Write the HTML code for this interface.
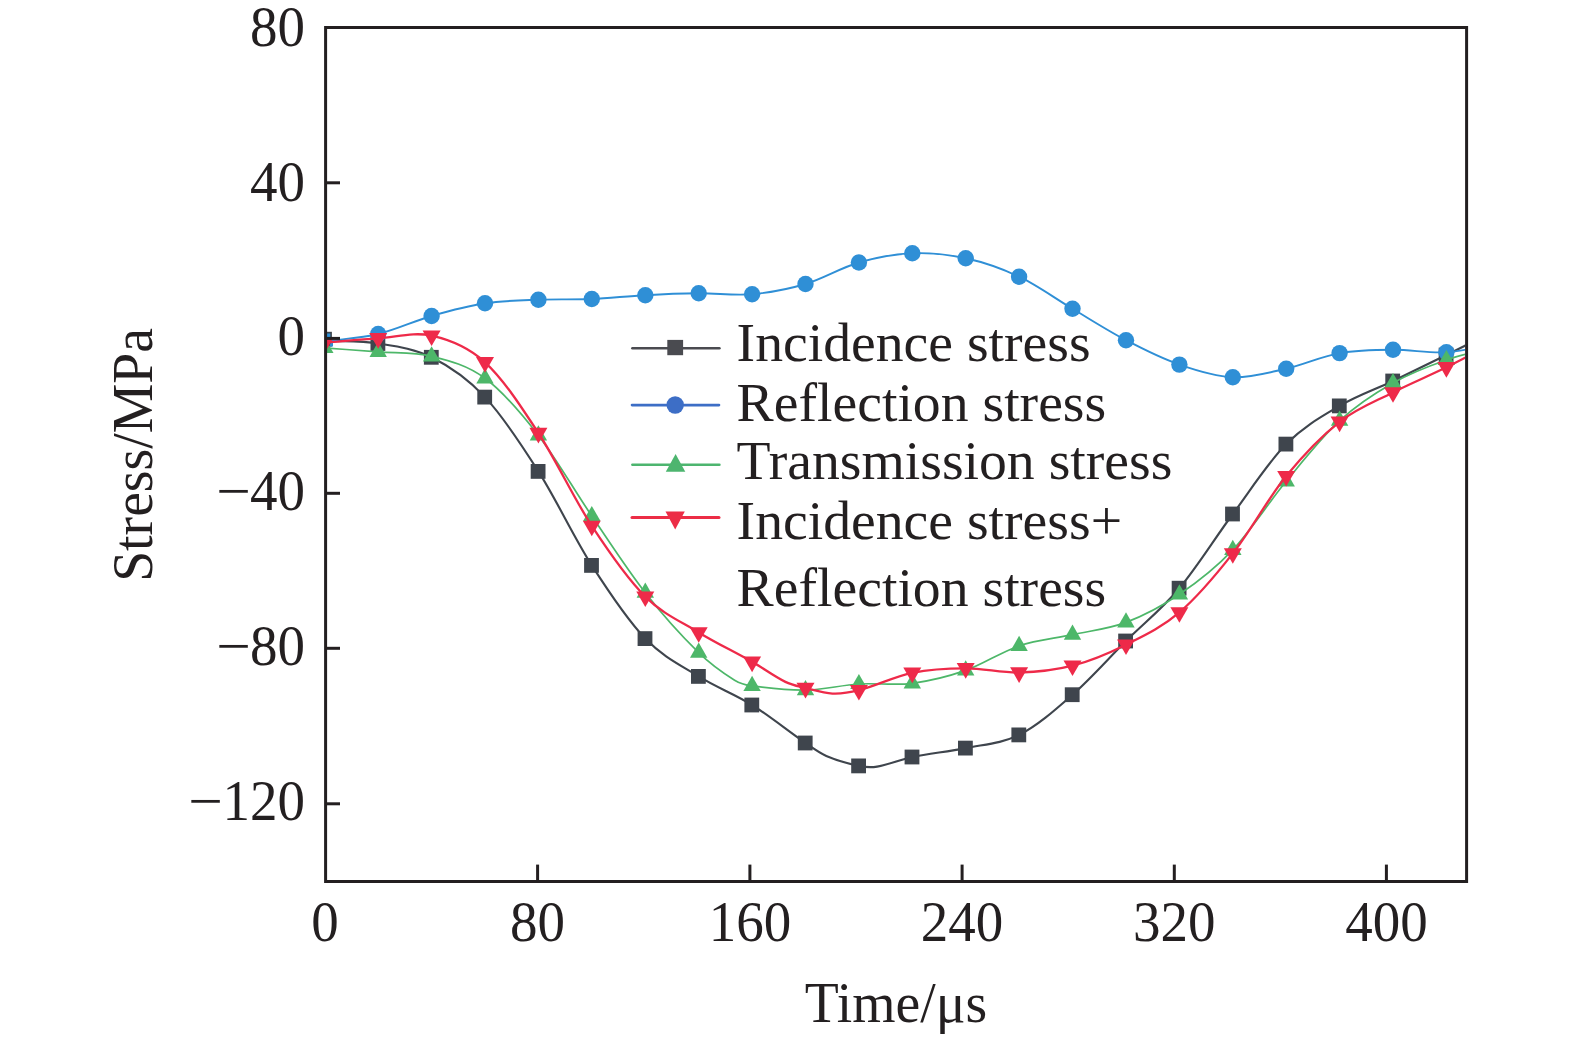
<!DOCTYPE html>
<html lang="en">
<head>
<meta charset="utf-8">
<title>Stress vs Time</title>
<style>
html,body{margin:0;padding:0;background:#fff;}
body{width:1575px;height:1040px;overflow:hidden;}
svg{display:block;}
text{font-family:"Liberation Serif","Times New Roman",serif;font-size:55.7px;fill:#231f20;}
text.n{font-size:55px;}
</style>
</head>
<body>
<svg width="1575" height="1040" viewBox="0 0 1575 1040">
<rect width="1575" height="1040" fill="#fff"/>
<defs><clipPath id="plot"><rect x="327" y="29" width="1138.2" height="851"/></clipPath></defs>

<g clip-path="url(#plot)" fill="none" stroke-linejoin="round">
<path d="M324.8 340.5C342.6 341.5 360.4 340.7 378.2 343.5C396.0 346.3 413.8 348.4 431.6 357.3C449.4 366.2 467.2 378.1 485.0 397.1C502.8 416.1 520.6 443.3 538.4 471.4C556.2 499.4 574.0 537.5 591.8 565.4C609.7 593.3 627.5 620.1 645.3 638.6C663.1 657.1 680.9 665.3 698.7 676.4C716.5 687.5 734.3 693.9 752.1 705.0C769.9 716.1 787.7 730.8 805.5 743.0C812.4 747.8 819.4 753.0 826.3 756.0C837.2 760.7 848.0 763.6 858.9 765.9C865.0 767.2 871.0 767.6 877.1 766.6C888.8 764.6 900.6 759.5 912.3 757.0C930.1 753.3 947.9 751.8 965.7 748.1C983.5 744.4 1001.3 743.8 1019.1 734.9C1036.9 726.0 1054.7 710.4 1072.5 694.7C1090.3 679.1 1108.1 658.8 1126.0 641.0C1143.8 623.2 1161.6 609.4 1179.4 588.2C1197.2 567.0 1215.0 538.0 1232.8 514.0C1250.6 490.0 1268.4 462.1 1286.2 444.1C1304.0 426.1 1321.8 416.4 1339.6 405.9C1357.4 395.4 1375.2 389.5 1393.0 381.0C1410.8 372.5 1428.6 363.8 1446.4 355.0C1464.2 346.2 1482.0 337.2 1499.8 328.3" stroke="#3f454d" stroke-width="2.1"/>
<g fill="#3f454d"><rect x="317.1" y="331.8" width="14.8" height="14.8"/><rect x="370.5" y="336.1" width="14.8" height="14.8"/><rect x="423.9" y="349.9" width="14.8" height="14.8"/><rect x="477.3" y="389.7" width="14.8" height="14.8"/><rect x="530.7" y="464.0" width="14.8" height="14.8"/><rect x="584.1" y="558.0" width="14.8" height="14.8"/><rect x="637.6" y="631.2" width="14.8" height="14.8"/><rect x="691.0" y="669.0" width="14.8" height="14.8"/><rect x="744.4" y="697.6" width="14.8" height="14.8"/><rect x="797.8" y="735.6" width="14.8" height="14.8"/><rect x="851.2" y="758.5" width="14.8" height="14.8"/><rect x="904.6" y="749.6" width="14.8" height="14.8"/><rect x="958.0" y="740.7" width="14.8" height="14.8"/><rect x="1011.4" y="727.5" width="14.8" height="14.8"/><rect x="1064.8" y="687.3" width="14.8" height="14.8"/><rect x="1118.2" y="633.6" width="14.8" height="14.8"/><rect x="1171.7" y="580.8" width="14.8" height="14.8"/><rect x="1225.1" y="506.6" width="14.8" height="14.8"/><rect x="1278.5" y="436.7" width="14.8" height="14.8"/><rect x="1331.9" y="398.5" width="14.8" height="14.8"/><rect x="1385.3" y="373.6" width="14.8" height="14.8"/><rect x="1438.7" y="347.6" width="14.8" height="14.8"/></g>
<path d="M324.8 341.5C342.6 339.0 360.4 338.2 378.2 334.0C396.0 329.8 413.8 321.1 431.6 316.0C449.4 310.9 467.2 306.0 485.0 303.3C502.8 300.6 520.6 300.4 538.4 299.7C556.2 299.0 574.0 299.8 591.8 299.0C609.7 298.2 627.5 296.1 645.3 295.2C663.1 294.2 680.9 293.5 698.7 293.3C716.5 293.1 734.3 295.8 752.1 294.2C769.9 292.6 787.7 289.3 805.5 284.0C823.3 278.7 841.1 267.6 858.9 262.5C876.7 257.4 894.5 254.0 912.3 253.3C930.1 252.6 947.9 254.4 965.7 258.3C983.5 262.2 1001.3 268.3 1019.1 276.7C1036.9 285.1 1054.7 298.2 1072.5 308.8C1090.3 319.4 1108.1 330.9 1126.0 340.2C1143.8 349.5 1161.6 358.4 1179.4 364.6C1197.2 370.8 1215.0 376.5 1232.8 377.2C1250.6 377.9 1268.4 372.7 1286.2 368.7C1304.0 364.7 1321.8 356.2 1339.6 353.1C1357.4 350.0 1375.2 349.9 1393.0 349.8C1410.8 349.6 1428.6 353.3 1446.4 352.2C1464.2 351.1 1482.0 346.2 1499.8 343.2" stroke="#2f8fd6" stroke-width="1.9"/>
<g fill="#2f8fd6"><path d="M327 333.6H330.3V337.5H327ZM330.4 343H333V346.5H329.5Z"/><circle cx="378.2" cy="334.0" r="8.2"/><circle cx="431.6" cy="316.0" r="8.2"/><circle cx="485.0" cy="303.3" r="8.2"/><circle cx="538.4" cy="299.7" r="8.2"/><circle cx="591.8" cy="299.0" r="8.2"/><circle cx="645.3" cy="295.2" r="8.2"/><circle cx="698.7" cy="293.3" r="8.2"/><circle cx="752.1" cy="294.2" r="8.2"/><circle cx="805.5" cy="284.0" r="8.2"/><circle cx="858.9" cy="262.5" r="8.2"/><circle cx="912.3" cy="253.3" r="8.2"/><circle cx="965.7" cy="258.3" r="8.2"/><circle cx="1019.1" cy="276.7" r="8.2"/><circle cx="1072.5" cy="308.8" r="8.2"/><circle cx="1126.0" cy="340.2" r="8.2"/><circle cx="1179.4" cy="364.6" r="8.2"/><circle cx="1232.8" cy="377.2" r="8.2"/><circle cx="1286.2" cy="368.7" r="8.2"/><circle cx="1339.6" cy="353.1" r="8.2"/><circle cx="1393.0" cy="349.8" r="8.2"/><circle cx="1446.4" cy="352.2" r="8.2"/></g>
<path d="M324.8 348.0C342.6 349.3 360.4 350.4 378.2 351.8C396.0 353.2 413.8 351.9 431.6 356.3C449.4 360.7 467.2 365.1 485.0 378.3C502.8 391.5 520.6 412.4 538.4 435.4C556.2 458.3 574.0 489.8 591.8 516.0C609.7 542.2 627.5 569.9 645.3 592.7C663.1 615.5 680.9 635.2 698.7 652.6C710.6 664.3 722.6 672.7 734.6 680.2C740.4 683.8 746.3 685.1 752.1 685.9C769.9 688.4 787.7 690.5 805.5 690.2C823.3 689.9 841.1 685.1 858.9 684.0C876.7 682.9 894.5 685.6 912.3 683.3C930.1 681.0 947.9 676.6 965.7 670.4C983.5 664.2 1001.3 651.8 1019.1 645.9C1036.9 639.9 1054.7 638.6 1072.5 634.7C1090.3 630.8 1108.1 629.1 1126.0 622.4C1143.8 615.7 1161.6 606.4 1179.4 594.3C1197.2 582.2 1215.0 568.6 1232.8 549.8C1250.6 531.0 1268.4 502.8 1286.2 481.3C1304.0 459.8 1321.8 437.1 1339.6 420.7C1357.4 404.3 1375.2 393.1 1393.0 383.0C1410.8 372.9 1428.6 366.2 1446.4 360.0C1464.2 353.8 1482.0 350.5 1499.8 345.7" stroke="#4db769" stroke-width="1.7"/>
<g fill="#4db769"><path d="M324.8 337.9L333.5 353.1L316.1 353.1Z"/><path d="M378.2 341.7L386.9 356.9L369.5 356.9Z"/><path d="M431.6 346.2L440.3 361.4L422.9 361.4Z"/><path d="M485.0 368.2L493.7 383.4L476.3 383.4Z"/><path d="M538.4 425.3L547.1 440.5L529.7 440.5Z"/><path d="M591.8 505.9L600.5 521.1L583.1 521.1Z"/><path d="M645.3 582.6L654.0 597.8L636.6 597.8Z"/><path d="M698.7 642.5L707.4 657.7L690.0 657.7Z"/><path d="M752.1 675.8L760.8 691.0L743.4 691.0Z"/><path d="M805.5 680.1L814.2 695.3L796.8 695.3Z"/><path d="M858.9 673.9L867.6 689.1L850.2 689.1Z"/><path d="M912.3 673.2L921.0 688.4L903.6 688.4Z"/><path d="M965.7 660.3L974.4 675.5L957.0 675.5Z"/><path d="M1019.1 635.8L1027.8 651.0L1010.4 651.0Z"/><path d="M1072.5 624.6L1081.2 639.8L1063.8 639.8Z"/><path d="M1126.0 612.3L1134.7 627.5L1117.2 627.5Z"/><path d="M1179.4 584.2L1188.1 599.4L1170.7 599.4Z"/><path d="M1232.8 539.7L1241.5 554.9L1224.1 554.9Z"/><path d="M1286.2 471.2L1294.9 486.4L1277.5 486.4Z"/><path d="M1339.6 410.6L1348.3 425.8L1330.9 425.8Z"/><path d="M1393.0 372.9L1401.7 388.1L1384.3 388.1Z"/><path d="M1446.4 349.9L1455.1 365.1L1437.7 365.1Z"/></g>
<path d="M324.8 342.5C342.6 341.1 360.4 339.4 378.2 338.3C396.0 337.2 413.8 331.7 431.6 335.7C449.4 339.7 467.2 346.1 485.0 362.3C502.8 378.5 520.6 405.7 538.4 433.0C556.2 460.3 574.0 498.6 591.8 525.9C609.7 553.2 627.5 578.9 645.3 596.6C663.1 614.4 680.9 621.5 698.7 632.4C716.5 643.3 734.3 651.6 752.1 661.8C763.2 668.1 774.3 676.5 785.4 681.9C792.1 685.2 798.8 686.3 805.5 688.0C814.5 690.2 823.4 693.2 832.4 693.6C841.2 694.0 850.1 692.5 858.9 690.2C876.7 685.6 894.5 676.4 912.3 672.8C930.1 669.1 947.9 668.3 965.7 668.3C983.5 668.2 1001.3 672.9 1019.1 672.5C1036.9 672.1 1054.7 670.3 1072.5 665.7C1090.3 661.1 1108.1 653.6 1126.0 644.7C1143.8 635.8 1161.6 627.6 1179.4 612.4C1197.2 597.2 1215.0 576.1 1232.8 553.4C1250.6 530.7 1268.4 498.0 1286.2 476.1C1304.0 454.2 1321.8 435.8 1339.6 421.8C1357.4 407.9 1375.2 401.5 1393.0 392.4C1410.8 383.3 1428.6 376.1 1446.4 367.3C1464.2 358.5 1482.0 348.7 1499.8 339.4" stroke="#ee2a49" stroke-width="2.3"/>
<g fill="#ee2a49"><path d="M324.8 352.9L333.8 337.3L315.8 337.3Z"/><path d="M378.2 348.7L387.2 333.1L369.2 333.1Z"/><path d="M431.6 346.1L440.6 330.5L422.6 330.5Z"/><path d="M485.0 372.7L494.0 357.1L476.0 357.1Z"/><path d="M538.4 443.4L547.4 427.8L529.4 427.8Z"/><path d="M591.8 536.3L600.8 520.7L582.8 520.7Z"/><path d="M645.3 607.0L654.3 591.4L636.3 591.4Z"/><path d="M698.7 642.8L707.7 627.2L689.7 627.2Z"/><path d="M752.1 672.2L761.1 656.6L743.1 656.6Z"/><path d="M805.5 698.4L814.5 682.8L796.5 682.8Z"/><path d="M858.9 700.6L867.9 685.0L849.9 685.0Z"/><path d="M912.3 683.2L921.3 667.6L903.3 667.6Z"/><path d="M965.7 678.7L974.7 663.1L956.7 663.1Z"/><path d="M1019.1 682.9L1028.1 667.3L1010.1 667.3Z"/><path d="M1072.5 676.1L1081.5 660.5L1063.5 660.5Z"/><path d="M1126.0 655.1L1135.0 639.5L1117.0 639.5Z"/><path d="M1179.4 622.8L1188.4 607.2L1170.4 607.2Z"/><path d="M1232.8 563.8L1241.8 548.2L1223.8 548.2Z"/><path d="M1286.2 486.5L1295.2 470.9L1277.2 470.9Z"/><path d="M1339.6 432.2L1348.6 416.6L1330.6 416.6Z"/><path d="M1393.0 402.8L1402.0 387.2L1384.0 387.2Z"/><path d="M1446.4 377.7L1455.4 362.1L1437.4 362.1Z"/></g>
</g>
<g stroke="#231f20" stroke-width="3" fill="none">
<rect x="325.6" y="27.5" width="1141.0" height="854.0"/>
<path d="M325.6 182.8H340"/>
<path d="M325.6 338.4H340"/>
<path d="M325.6 493.3H340"/>
<path d="M325.6 648.3H340"/>
<path d="M325.6 803.8H340"/>
<path d="M537.6 881.5V864.6"/>
<path d="M749.9 881.5V864.6"/>
<path d="M962.1 881.5V864.6"/>
<path d="M1174.3 881.5V864.6"/>
<path d="M1386.4 881.5V864.6"/>
</g>
<g text-anchor="end">
<text class="n" transform="translate(305 46.2) scale(1 1.03)">80</text>
<text class="n" transform="translate(305 200.7) scale(1 1.03)">40</text>
<text class="n" transform="translate(305 355.0) scale(1 1.03)">0</text>
<text class="n" transform="translate(250.8 510.0) scale(1.115 1.03)">−</text>
<text class="n" transform="translate(305 510.0) scale(1 1.03)">40</text>
<text class="n" transform="translate(250.8 665.0) scale(1.115 1.03)">−</text>
<text class="n" transform="translate(305 665.0) scale(1 1.03)">80</text>
<text class="n" transform="translate(222.8 819.5) scale(1.115 1.03)">−</text>
<text class="n" transform="translate(305 819.5) scale(1 1.03)">120</text>
</g>
<g text-anchor="middle">
<text class="n" transform="translate(325.0 941.3) scale(1 1.03)">0</text>
<text class="n" transform="translate(537.6 941.3) scale(1 1.03)">80</text>
<text class="n" transform="translate(749.9 941.3) scale(1 1.03)">160</text>
<text class="n" transform="translate(962.1 941.3) scale(1 1.03)">240</text>
<text class="n" transform="translate(1174.3 941.3) scale(1 1.03)">320</text>
<text class="n" transform="translate(1386.4 941.3) scale(1 1.03)">400</text>
<text transform="translate(896 1022) scale(1 1.035)">Time/μs</text>
<text transform="translate(152.2 455) rotate(-90) scale(1 1.04)">Stress/MPa</text>
</g>
<g stroke-linecap="round" fill="none">
<path d="M632.4 348.3H719.4" stroke="#4a4b50" stroke-width="2.6"/>
<path d="M632 405.1H719" stroke="#3d6ec6" stroke-width="2.6"/>
<path d="M632.4 464.7H719.4" stroke="#4db56f" stroke-width="2.6"/>
<path d="M632 517.5H719" stroke="#ec2d46" stroke-width="3"/>
</g>
<rect x="667.3" y="339.9" width="15.8" height="15.3" fill="#4a4b50"/>
<circle cx="675.2" cy="405" r="8.7" fill="#3d6ec6"/>
<path d="M675.6 454.1L685.3 471.8H665.8Z" fill="#4db56f"/>
<path d="M675.2 529.4L684.8 511.6H665.5Z" fill="#ec2d46"/>
<text x="736.6" y="361.4">Incidence stress</text>
<text x="736.6" y="421.1">Reflection stress</text>
<text x="736.6" y="479.4">Transmission stress</text>
<text x="736.6" y="539.4">Incidence stress+</text>
<text x="736.6" y="605.9">Reflection stress</text>
</svg>
</body>
</html>
